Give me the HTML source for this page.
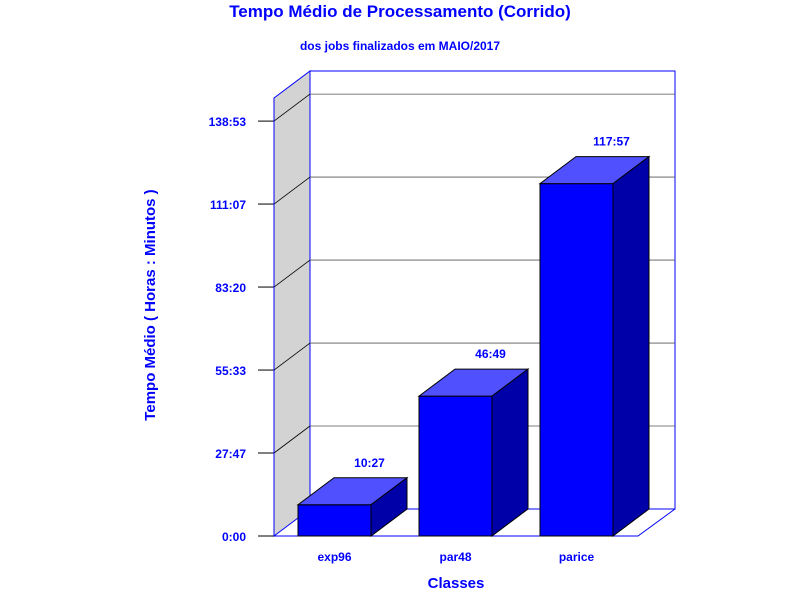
<!DOCTYPE html>
<html><head><meta charset="utf-8"><style>
body{margin:0;background:#fff}
svg{display:block;font-family:"Liberation Sans",Arial,sans-serif;font-weight:bold}
</style></head><body>
<svg id="c" width="800" height="600">
<text x="400" y="17" text-anchor="middle" font-size="17" fill="#0000ff">Tempo Médio de Processamento (Corrido)</text>
<text x="400" y="50" text-anchor="middle" font-size="12" fill="#0000ff">dos jobs finalizados em MAIO/2017</text>
<text x="155" y="305" text-anchor="middle" font-size="15" fill="#0000ff" transform="rotate(-90 155 305)">Tempo Médio ( Horas : Minutos )</text>
<text x="456" y="588" text-anchor="middle" font-size="15" fill="#0000ff">Classes</text>
<g id="g"></g>
</svg>
<script>
const categories=["exp96","par48","parice"];
const values=[627,2809,7077]; // minutes
const valueLabels=["10:27","46:49","117:57"];
const tickValues=[0,1667,3333,5000,6667,8333];
const tickLabels=["0:00","27:47","55:33","83:20","111:07","138:53"];
const NS="http://www.w3.org/2000/svg";
const g=document.getElementById('g');
const X0=274,X1=638,Y0=536,DX=36,DY=-27,TOP=98;
const y=v=>Y0-v/1667*83;
function el(t,a,p){const e=document.createElementNS(NS,t);for(const k in a)e.setAttribute(k,a[k]);(p||g).appendChild(e);return e;}
// side wall
let e=el('polygon',{points:`${X0},${Y0} ${X0+DX},${Y0+DY} ${X0+DX},${TOP+DY} ${X0},${TOP}`,fill:'#d3d3d3',stroke:'#0000ff'});


// back wall
e=el('rect',{x:X0+DX,y:TOP+DY,width:X1-X0+1,height:Y0-TOP,fill:'#fff',stroke:'#0000ff'});


// floor
e=el('polyline',{points:`${X0},${Y0} ${X1},${Y0} ${X1+DX+1},${Y0+DY}`,fill:'none',stroke:'#0000ff'});


// grid & ticks
tickValues.forEach((v,i)=>{
  const yy=y(v);
  if(i>0){
    let l=el('line',{x1:X0,y1:yy,x2:X0+DX,y2:yy+DY,stroke:'#000','stroke-width':0.8});
    
    
    l=el('line',{x1:X0+DX,y1:yy+DY,x2:X1+DX+1,y2:yy+DY,stroke:'#555','stroke-width':0.8});
    
    
  }
  let t=el('line',{x1:X0-16,y1:yy,x2:X0,y2:yy,stroke:'#000'});
  
  
  let tx=el('text',{x:X0-28,y:yy+5,'text-anchor':'end','font-size':12,fill:'#0000ff'});
  tx.textContent=tickLabels[i];
  
  
});
e=el('line',{x1:X0,y1:Y0,x2:X0,y2:TOP,stroke:'#0000ff'});


// bars
const BW=73,STEP=121,BX0=298;
categories.forEach((c,i)=>{
  const x=BX0+i*STEP,yt=y(values[i]);
  const grp=el('g',{});
  
  
  el('rect',{x:x,y:yt,width:BW,height:Y0-yt,fill:'#0000ff',stroke:'#000'},grp);
  el('polygon',{points:`${x},${yt} ${x+DX},${yt+DY} ${x+BW+DX},${yt+DY} ${x+BW},${yt}`,fill:'#5050ff',stroke:'#000'},grp);
  el('polygon',{points:`${x+BW},${yt} ${x+BW+DX},${yt+DY} ${x+BW+DX},${Y0+DY} ${x+BW},${Y0}`,fill:'#0000a8',stroke:'#000'},grp);
  let t=el('text',{x:x+BW/2+35,y:yt+DY-11,'text-anchor':'middle','font-size':12,fill:'#0000ff'});
  t.textContent=valueLabels[i];
  
  
  t=el('text',{x:x+BW/2,y:Y0+25,'text-anchor':'middle','font-size':12,fill:'#0000ff'});
  t.textContent=c;
  
  
});
</script>
</body></html>
